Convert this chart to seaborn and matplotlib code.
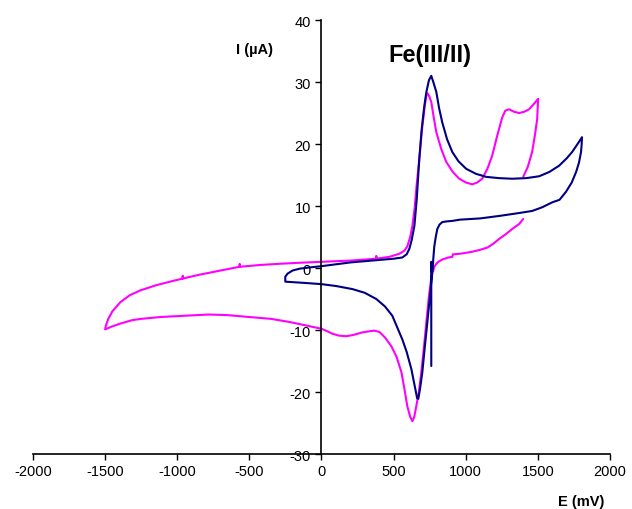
import numpy as np
import pandas as pd
import matplotlib
matplotlib.use('Agg')
import matplotlib.pyplot as plt
import seaborn as sns

# Navy cycle (E in mV, I in uA)
navy_e = [761, 761, 766, 752, 734, 715, 699, 683, 671, 663, 657, 640, 623, 590, 560, 520, 491, 440, 380, 300,
          215, 100, 0, -120, -251,
          -251, -235, -200, -150, -80, 0, 100, 200, 300, 400, 500, 560, 590, 609, 625, 644, 660, 678, 695, 712,
          727, 745, 761, 775, 796, 815, 837, 870, 907, 950, 1003, 1070, 1142, 1230, 1322, 1420, 1509, 1580, 1647,
          1700, 1737, 1775, 1806,
          1803, 1799, 1785, 1765, 1735, 1695, 1650, 1600, 1530, 1460, 1350, 1232, 1100, 960, 907, 860, 837, 818,
          803, 792, 782, 775, 770]
navy_i = [-15.8, 1.0, -1.0, -4.5, -8.7, -13.0, -16.8, -19.5, -21.1, -21.0, -20.3, -18.3, -16.3, -13.5, -11.5, -9.3,
          -7.7, -6.2, -5.0, -4.0, -3.4, -2.9, -2.6, -2.4, -2.2,
          -1.4, -0.9, -0.4, -0.1, 0.1, 0.3, 0.6, 0.9, 1.1, 1.3, 1.5, 1.7, 2.2, 3.1, 4.5, 6.8, 11.0, 17.6, 22.5, 26.0,
          28.4, 30.3, 31.0, 30.0, 28.4, 25.8, 23.5, 20.8, 18.7, 17.2, 16.0, 15.2, 14.7, 14.5, 14.4, 14.5, 14.8, 15.5,
          16.5, 17.7, 18.7, 20.0, 21.1,
          19.8, 18.7, 17.0, 15.5, 13.8, 12.3, 11.0, 10.6, 9.8, 9.2, 8.8, 8.4, 8.0, 7.8, 7.6, 7.5, 7.4, 7.0,
          6.3, 5.0, 3.5, 1.5, -0.5]

# Magenta cycle
pink_e = [1398, 1370, 1322, 1280, 1232, 1190, 1150, 1094, 1040, 960, 910, 907, 880, 840, 817, 800, 782, 770, 761,
          745, 727, 710, 692, 675, 657, 643, 630, 615, 595, 575, 554, 520, 484, 440, 401, 365, 332, 280, 220, 173,
          120, 76, 30, 0, -100, -223, -350, -502, -650, -781, -950, -1115, -1250, -1311, -1400, -1460, -1500,
          -1495, -1478, -1450, -1420, -1394, -1330, -1255, -1150, -1050, -962, -962, -962, -850, -700, -567, -567,
          -567, -420, -279, -150, 0, 200, 380, 380, 380, 470, 540, 575, 595, 615, 630, 645, 660, 678, 695, 713, 725,
          734, 745, 761, 778, 796, 830, 865, 910, 955, 1000, 1045, 1080, 1114, 1150, 1183, 1220, 1253, 1275, 1301,
          1335, 1370, 1405, 1439, 1470, 1502,
          1498, 1495, 1480, 1460, 1430, 1398]
pink_i = [7.9, 7.1, 6.3, 5.5, 4.7, 3.9, 3.3, 2.9, 2.6, 2.3, 2.2, 1.8, 1.7, 1.4, 1.1, 0.8, 0.2, -0.8, -1.6,
          -4.5, -8.7, -12.8, -16.8, -20.0, -22.3, -24.0, -24.7, -24.0, -22.3, -19.5, -16.8, -14.3, -12.6, -11.2,
          -10.3, -10.1, -10.2, -10.4, -10.8, -11.0, -10.9, -10.6, -10.1, -9.8, -9.3, -8.7, -8.2, -7.9, -7.6, -7.5,
          -7.7, -7.9, -8.2, -8.4, -9.0, -9.5, -9.9,
          -9.3, -8.2, -7.0, -6.2, -5.5, -4.4, -3.6, -2.8, -2.2, -1.7, -1.3, -1.7, -1.1, -0.4, 0.2, 0.6,
          0.2, 0.5, 0.7, 0.85, 1.0, 1.2, 1.5, 1.9, 1.5, 1.8, 2.3, 2.8, 3.5, 5.0, 6.8, 9.5, 13.5, 17.6, 22.0, 25.6,
          27.6, 28.2, 27.8, 26.8, 24.3, 21.9, 19.2, 17.1, 15.5, 14.4, 13.8, 13.5, 13.8, 14.4, 16.0, 18.1, 21.5, 24.3,
          25.4, 25.6, 25.2, 25.0, 25.2, 25.6, 26.4, 27.3,
          25.5, 24.0, 21.5, 18.7, 16.3, 14.7]

x_ticks = [-2000, -1500, -1000, -500, 0, 500, 1000, 1500, 2000]
y_ticks = [-30, -20, -10, 0, 10, 20, 30, 40]

sns.set_style('ticks')
plt.rcParams['font.family'] = ['Liberation Sans', 'DejaVu Sans']
plt.rcParams['axes.unicode_minus'] = False
plt.rcParams['text.color'] = 'black'
plt.rcParams['xtick.color'] = 'black'
plt.rcParams['ytick.color'] = 'black'

fig = plt.figure(figsize=(6.32, 5.10), dpi=100)
ax = fig.add_axes([0.0522, 0.1078, 0.913, 0.851])

navy = pd.DataFrame({'E': navy_e, 'I': navy_i})
pink = pd.DataFrame({'E': pink_e, 'I': pink_i})
sns.lineplot(data=pink, x='E', y='I', sort=False, estimator=None, color='#FF00FF', lw=1.5, ax=ax)
sns.lineplot(data=navy, x='E', y='I', sort=False, estimator=None, color='#000080', lw=1.5, ax=ax)

ax.set_xlim(-2000, 2000)
ax.set_ylim(-30, 40)
ax.set_xticks(x_ticks)
ax.set_yticks(y_ticks)
ax.spines['left'].set_position(('data', 0))
ax.spines['top'].set_visible(False)
ax.spines['right'].set_visible(False)
for s in ['left', 'bottom']:
    ax.spines[s].set_linewidth(1.2)
    ax.spines[s].set_color('black')
ax.tick_params(axis='both', direction='out', length=4, width=1, labelsize=10.5, colors='black')
ax.set_xlabel('')
ax.set_ylabel('')

ax.text(-464, 35.3, 'I (µA)', fontsize=10.5, fontweight='bold', ha='center', va='center')
ax.text(754, 34.5, 'Fe(III/II)', fontsize=17, fontweight='bold', ha='center', va='center')
ax.text(1960, -37.6, 'E (mV)', fontsize=10.5, fontweight='bold', ha='right', va='center', clip_on=False)

fig.savefig('out.png', dpi=100)
